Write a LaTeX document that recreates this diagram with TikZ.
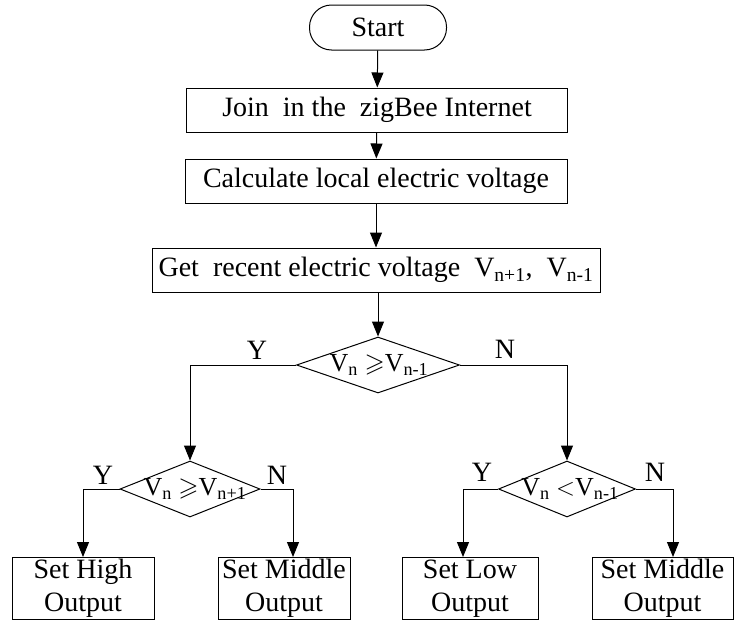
\documentclass[tikz,border=0pt]{standalone}
\usepackage{amssymb}
\usepackage{fontspec}
\setmainfont{Liberation Serif}
\usetikzlibrary{shapes.geometric,arrows.meta}
\newcommand{\vsb}[1]{\textsubscript{#1}}
\begin{document}
\begin{tikzpicture}[x=1pt,y=1pt,
  every node/.style={font=\fontsize{28}{31}\selectfont},
  proc/.style={draw, line width=1pt, inner sep=0pt, minimum height=44pt},
  term/.style={draw, line width=1pt, inner sep=0pt, rounded corners=22pt, minimum width=137pt, minimum height=45pt},
  dec/.style={draw, diamond, line width=1pt, inner sep=0pt, minimum height=56pt},
  outbox/.style={draw, line width=1pt, inner sep=0pt, minimum height=62pt, align=center, font=\fontsize{28}{33}\selectfont},
  dtext/.style={font=\fontsize{26}{28}\selectfont},
  arr/.style={line width=1pt, -{Triangle[length=15pt,width=12pt]}},
  yn/.style={font=\fontsize{28}{30}\selectfont}
]
\useasboundingbox (0,0) rectangle (738,-621);

\node[term] (start) at (378,-27.5) {Start};
\node[proc, minimum width=381pt] (join) at (377,-110) {Join~ in the~ zigBee Internet};
\node[proc, minimum width=382pt] (calc) at (376,-181) {Calculate local electric voltage};
\node[proc, minimum width=448pt] (get) at (376,-270) {Get~ recent electric voltage~ V\vsb{n+1},~ V\vsb{n-1}};

\node[dec, minimum width=163pt] (d1) at (378,-365) {};
\node[dtext] (d1t) at (379,-365) {V\vsb{n} $\geqslant$V\vsb{n-1}};

\node[dec, minimum width=140pt] (d2l) at (190,-489) {};
\node[dtext] (d2lt) at (195,-489) {V\vsb{n} $\geqslant$V\vsb{n+1}};

\node[dec, minimum width=137pt] (d2r) at (567,-489) {};
\node[dtext] (d2rt) at (570,-489) {V\vsb{n} $<$V\vsb{n-1}};

\node[outbox, minimum width=142pt] (high) at (83,-588.5) {Set High\\Output};
\node[outbox, minimum width=132pt] (mid1) at (284,-588.5) {Set Middle\\Output};
\node[outbox, minimum width=136pt] (low) at (470,-588.5) {Set Low\\Output};
\node[outbox, minimum width=141pt] (mid2) at (662.5,-588.5) {Set Middle\\Output};

\draw[arr] (start) -- (join);
\draw[arr] (join) -- (calc);
\draw[arr] (calc) -- (get);
\draw[arr] (get.south -| d1.north) -- (d1.north);
\draw[arr] (d1.west) -| (d2l.north);
\draw[arr] (d1.east) -| (d2r.north);
\draw[arr] (d2l.west) -| (high.north);
\draw[arr] (d2l.east) -| ([xshift=9pt]mid1.north);
\draw[arr] (d2r.west) -| ([xshift=-7pt]low.north);
\draw[arr] (d2r.east) -| ([xshift=10.5pt]mid2.north);

\node[yn] (y1) at (257,-350) {Y};
\node[yn] (n1) at (505,-349) {N};
\node[yn] (y2) at (103,-475) {Y};
\node[yn] (n2) at (277,-475) {N};
\node[yn] (y3) at (482,-472) {Y};
\node[yn] (n3) at (655,-472) {N};
\end{tikzpicture}
\end{document}
